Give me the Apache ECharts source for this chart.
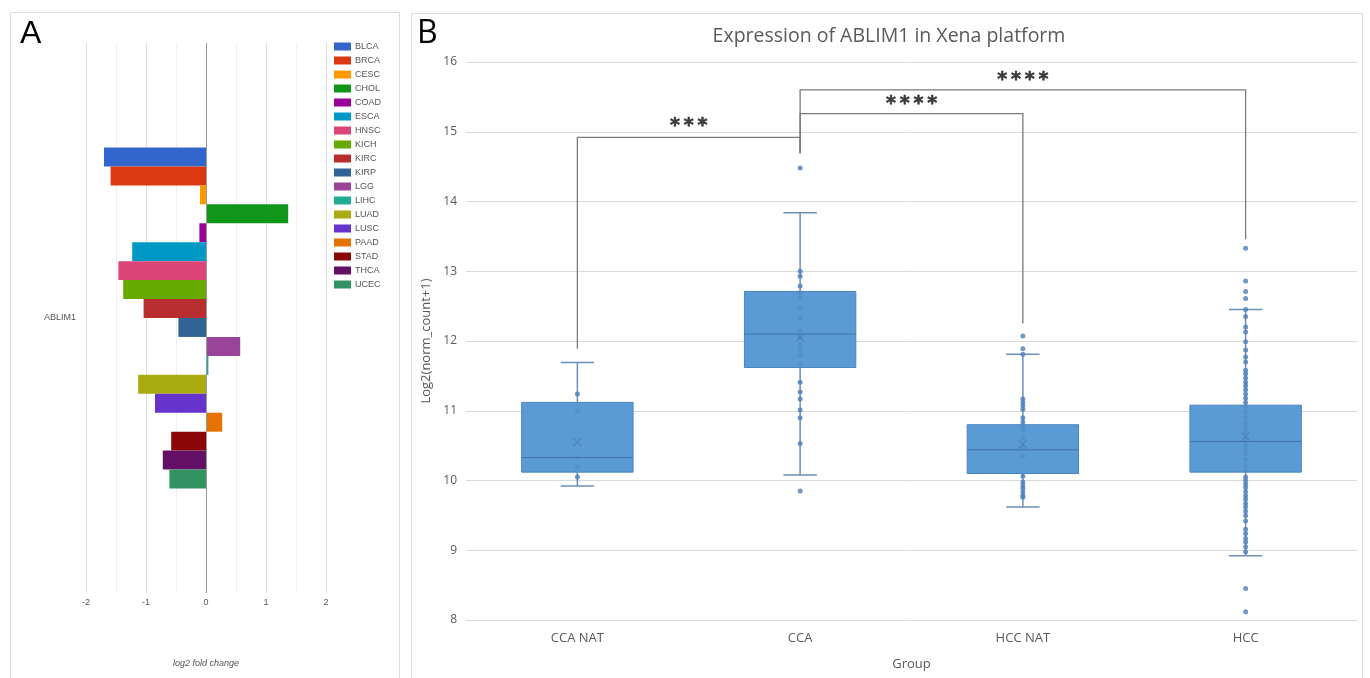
<!DOCTYPE html>
<html><head><meta charset="utf-8">
<script src="https://cdn.jsdelivr.net/npm/echarts@6/dist/echarts.min.js"></script>
<style>html,body{margin:0;padding:0;background:#fff}#c{width:1370px;height:678px}</style>
</head><body><div id="c"></div><script>
// ---------- Panel A data ----------
const geneCategories = ['ABLIM1'];
const cancerTypes = ['BLCA','BRCA','CESC','CHOL','COAD','ESCA','HNSC','KICH','KIRC','KIRP','LGG','LIHC','LUAD','LUSC','PAAD','STAD','THCA','UCEC'];
const log2FoldChange = [-1.70,-1.59,-0.10,1.37,-0.11,-1.23,-1.46,-1.38,-1.04,-0.46,0.57,0.04,-1.13,-0.85,0.27,-0.58,-0.72,-0.61];
const cancerColors = ['#3366cc','#dc3912','#ff9900','#109618','#990099','#0099c6','#dd4477','#66aa00','#b82e2e','#316395','#994499','#22aa99','#aaaa11','#6633cc','#e67300','#8b0707','#651067','#329262'];

// ---------- Panel B data ----------
const groups = ['CCA NAT','CCA','HCC NAT','HCC'];
const whiskerLow  = [9.92, 10.08, 9.62, 8.92];
const q1          = [10.12, 11.62, 10.10, 10.12];
const median      = [10.33, 12.10, 10.44, 10.56];
const q3          = [11.12, 12.71, 10.80, 11.08];
const whiskerHigh = [11.69, 13.84, 11.81, 12.45];
const mean        = [10.55, 12.05, 10.52, 10.63];

const ccaNatPoints = [11.24, 11.00, 10.33, 10.19, 10.05];
const ccaPoints = [14.48, 13.00, 12.93, 12.79, 12.70, 12.62, 12.47, 12.33, 12.15, 12.05, 11.95, 11.88, 11.80, 11.67, 11.41, 11.27, 11.17, 11.01, 10.90, 10.53, 9.85];
const hccNatPoints = [12.07, 11.89, 11.81, 11.17, 11.12, 11.07, 11.02, 10.90, 10.84, 10.78, 10.72, 10.60, 10.48, 10.35, 10.06, 9.98, 9.93, 9.89, 9.84, 9.79, 9.76];
const hccPoints = [13.33, 12.86, 12.71, 12.61, 12.45, 12.35, 12.20, 12.13, 11.99, 11.87, 11.77, 11.70, 11.58, 11.53, 11.47, 11.41, 11.36, 11.30, 11.24, 11.18, 11.12,
  11.05, 10.98, 10.90, 10.82, 10.75, 10.68, 10.60, 10.52, 10.45, 10.38, 10.30, 10.22, 10.15,
  10.05, 10.00, 9.95, 9.90, 9.84, 9.78, 9.73, 9.67, 9.62, 9.56, 9.50, 9.42, 9.30, 9.24, 9.17, 9.12, 9.05, 8.98, 8.45, 8.12];
const groupPoints = [ccaNatPoints, ccaPoints, hccNatPoints, hccPoints];

// significance brackets
const bracketLeft   = [0, 1, 1];
const bracketRight  = [1, 2, 3];
const bracketLeftFoot  = [11.89, 14.69, 14.69];
const bracketRightFoot = [14.69, 12.25, 13.46];
const bracketHeight = [14.92, 15.26, 15.60];
const bracketLabel  = ['***', '****', '****'];
const bracketLabelY = [15.08, 15.39, 15.74];

const chart = echarts.init(document.getElementById('c'));

const barSeries = cancerTypes.map((name, i) => ({
  name, type: 'bar', xAxisIndex: 0, yAxisIndex: 0,
  data: [log2FoldChange[i]],
  barGap: '0%', barCategoryGap: '38%',
  itemStyle: { color: cancerColors[i] },
  ...(i === 0 ? { markLine: { silent: true, symbol: 'none', label: { show: false },
      lineStyle: { color: '#9a9a9a', type: 'solid', width: 1 }, data: [{ xAxis: 0 }] } } : {})
}));

const boxData = groups.map((g, i) => [i, whiskerLow[i], q1[i], median[i], q3[i], whiskerHigh[i], mean[i]]);
const pointData = [];
groupPoints.forEach((arr, i) => arr.forEach(v => pointData.push([i, v])));

const bracketData = bracketLeft.map((l, i) => ({
  coords: [[l, bracketLeftFoot[i]], [l, bracketHeight[i]], [bracketRight[i], bracketHeight[i]], [bracketRight[i], bracketRightFoot[i]]]
}));
const starData = bracketLeft.map((l, i) => ({ value: [(l + bracketRight[i]) / 2, bracketLabelY[i]], name: bracketLabel[i] }));

const fontB = '"Open Sans", "Noto Sans", sans-serif';
const fontA = 'Arial, "Liberation Sans", sans-serif';

chart.setOption({
  animation: false,
  graphic: [
    { type: 'rect', shape: { x: 10.5, y: 12.5, width: 389, height: 700 }, style: { fill: 'none', stroke: '#dcdcdc', lineWidth: 1 } },
    { type: 'rect', shape: { x: 411.5, y: 13.5, width: 951, height: 700 }, style: { fill: 'none', stroke: '#dcdcdc', lineWidth: 1 } },
    { type: 'text', x: 20, y: 18, style: { text: 'A', font: '32px ' + fontA, fill: '#000' } },
    { type: 'text', x: 417, y: 18, style: { text: 'B', font: '32px ' + fontB, fill: '#000' } },
    { type: 'text', x: 889, y: 36, style: { text: 'Expression of ABLIM1 in Xena platform', font: '19.5px ' + fontB, fill: '#595959', textAlign: 'center', textVerticalAlign: 'middle' } }
  ],
  legend: {
    data: cancerTypes, orient: 'vertical', left: 334, top: 42, padding: 0, itemWidth: 17, itemHeight: 8, itemGap: 5,
    icon: 'rect', textStyle: { fontSize: 9, color: '#555', fontFamily: fontA, padding: [0, 0, 0, -1] }
  },
  grid: [
    { left: 86, width: 240, top: 43, height: 550 },
    { left: 466, right: 13, top: 62, bottom: 58 }
  ],
  xAxis: [
    { gridIndex: 0, type: 'value', min: -2, max: 2, interval: 0.5,
      axisLine: { show: false }, axisTick: { show: false },
      axisLabel: { fontSize: 9, color: '#555', fontFamily: fontA, margin: 5,
        formatter: v => (Math.abs(v - Math.round(v)) < 1e-9 ? String(Math.round(v)) : '') },
      splitLine: { show: true, lineStyle: { color: ['#dedede', '#efefef'] } },
      name: 'log2 fold change', nameLocation: 'middle', nameGap: 66,
      nameTextStyle: { fontSize: 9, color: '#555', fontStyle: 'italic', fontFamily: fontA } },
    { gridIndex: 1, type: 'category', data: groups, boundaryGap: true,
      axisLine: { show: false }, axisTick: { show: false },
      axisLabel: { fontSize: 13, color: '#595959', fontFamily: fontB, margin: 12 },
      name: 'Group', nameLocation: 'middle', nameGap: 38,
      nameTextStyle: { fontSize: 13, color: '#595959', fontFamily: fontB } },
    { gridIndex: 1, type: 'value', min: -0.5, max: 3.5, show: false }
  ],
  yAxis: [
    { gridIndex: 0, type: 'category', data: geneCategories, inverse: true,
      axisLine: { show: false }, axisTick: { show: false },
      axisLabel: { fontSize: 9, color: '#555', fontFamily: fontA, margin: 10 } },
    { gridIndex: 1, type: 'value', min: 8, max: 16, interval: 1,
      axisLine: { show: false }, axisTick: { show: false },
      axisLabel: { fontSize: 12, color: '#595959', fontFamily: fontB, margin: 9 },
      splitLine: { lineStyle: { color: '#d9d9d9' } },
      name: 'Log2(norm_count+1)', nameLocation: 'middle', nameGap: 26, nameRotate: 90,
      nameTextStyle: { fontSize: 13, color: '#595959', fontFamily: fontB } }
  ],
  series: [
    ...barSeries,
    {
      type: 'custom', xAxisIndex: 2, yAxisIndex: 1, data: boxData, z: 3,
      renderItem: (params, api) => {
        const x = api.value(0);
        const band = api.size([1, 0])[0];
        const hw = band * 0.25, cw = band * 0.075;
        const P = v => api.coord([x, v]);
        const cx = P(0)[0];
        const yLo = P(api.value(1))[1], yQ1 = P(api.value(2))[1], yMed = P(api.value(3))[1],
              yQ3 = P(api.value(4))[1], yHi = P(api.value(5))[1], yMean = P(api.value(6))[1];
        const wStyle = { stroke: '#6b8fb8', lineWidth: 1.5 };
        const m = 4;
        return { type: 'group', children: [
          { type: 'line', shape: { x1: cx, y1: yHi, x2: cx, y2: yQ3 }, style: wStyle },
          { type: 'line', shape: { x1: cx, y1: yQ1, x2: cx, y2: yLo }, style: wStyle },
          { type: 'line', shape: { x1: cx - cw, y1: yHi, x2: cx + cw, y2: yHi }, style: wStyle },
          { type: 'line', shape: { x1: cx - cw, y1: yLo, x2: cx + cw, y2: yLo }, style: wStyle },
          { type: 'rect', shape: { x: cx - hw, y: yQ3, width: hw * 2, height: yQ1 - yQ3 }, style: { fill: '#5b9bd5', stroke: '#4a85c0', lineWidth: 1 } },
          { type: 'line', shape: { x1: cx - hw, y1: yMed, x2: cx + hw, y2: yMed }, style: { stroke: '#3f72a8', lineWidth: 1 } },
          { type: 'line', shape: { x1: cx - m, y1: yMean - m, x2: cx + m, y2: yMean + m }, style: { stroke: '#4577ad', lineWidth: 1 } },
          { type: 'line', shape: { x1: cx - m, y1: yMean + m, x2: cx + m, y2: yMean - m }, style: { stroke: '#4577ad', lineWidth: 1 } }
        ] };
      }
    },
    {
      type: 'scatter', xAxisIndex: 2, yAxisIndex: 1, data: pointData, symbolSize: 5, z: 4,
      itemStyle: {
        color: p => {
          const g = p.value[0], v = p.value[1];
          return (v > q1[g] + 0.01 && v < q3[g] - 0.01) ? 'rgba(70,120,180,0.35)' : '#4d7fb8';
        }
      }
    },
    {
      type: 'lines', coordinateSystem: 'cartesian2d', xAxisIndex: 2, yAxisIndex: 1, polyline: true,
      data: bracketData, lineStyle: { color: '#7a7a7a', width: 1.3, opacity: 1 }, z: 5, silent: true
    },
    {
      type: 'scatter', xAxisIndex: 2, yAxisIndex: 1, data: starData, symbolSize: 0, z: 6, silent: true,
      label: { show: true, position: 'inside', formatter: p => p.name.split('').join('\u2009'), fontSize: 19, color: '#111',
        fontFamily: '"DejaVu Sans", sans-serif', fontWeight: 'bold', textBorderColor: '#111', textBorderWidth: 0.6 }
    }
  ]
});
</script></body></html>
